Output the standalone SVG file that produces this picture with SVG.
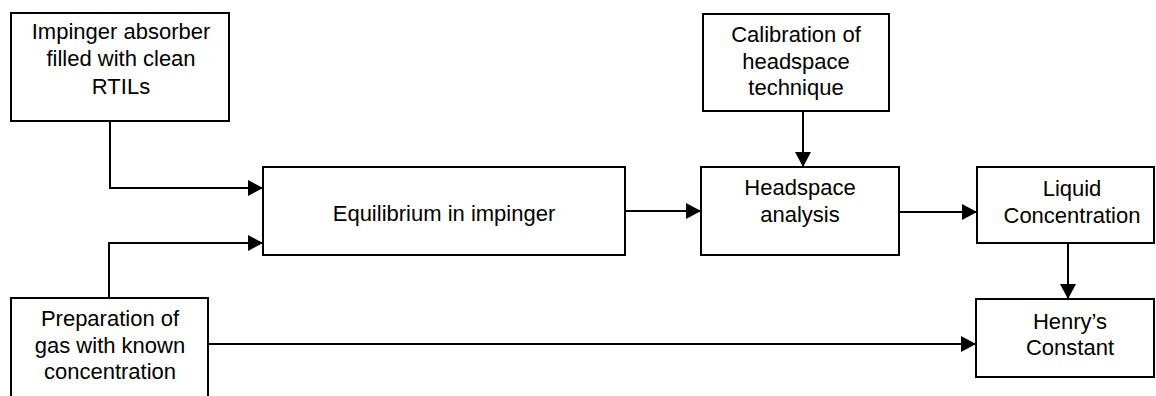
<svg xmlns="http://www.w3.org/2000/svg" width="1156" height="396" viewBox="0 0 1156 396">
<style>
.box{fill:#ffffff;stroke:#000;stroke-width:2}
.lbl{font-family:"Liberation Sans",Arial,sans-serif;font-size:22px;fill:#000;text-anchor:middle}
.conn{fill:none;stroke:#000;stroke-width:2;marker-end:url(#ah)}
</style>
<defs>
<marker id="ah" markerUnits="userSpaceOnUse" markerWidth="16" markerHeight="16" viewBox="0 0 16 16" refX="15" refY="8" orient="auto">
<path d="M0,0 L15,8 L0,16 Z" fill="#000"/>
</marker>
</defs>
<rect width="1156" height="396" fill="#fff"/>
<g id="connectors">
<path class="conn" d="M110,121 V188 H263"/>
<path class="conn" d="M109,298 V243 H263"/>
<path class="conn" d="M625,211 H701"/>
<path class="conn" d="M803,111 V167"/>
<path class="conn" d="M899,212 H977"/>
<path class="conn" d="M1068,243 V299"/>
<path class="conn" d="M208,344 H976"/>
</g>
<g id="impinger">
<rect class="box" x="11" y="13" width="218" height="108"/>
<text class="lbl" x="121" y="39">Impinger absorber</text>
<text class="lbl" x="121" y="66">filled with clean</text>
<text class="lbl" x="121" y="94">RTILs</text>
</g>
<g id="preparation">
<rect class="box" x="11" y="298" width="197" height="104"/>
<text class="lbl" x="110" y="326">Preparation of</text>
<text class="lbl" x="110" y="353">gas with known</text>
<text class="lbl" x="110" y="379">concentration</text>
</g>
<g id="equilibrium">
<rect class="box" x="263" y="167" width="362" height="88"/>
<text class="lbl" x="444" y="221">Equilibrium in impinger</text>
</g>
<g id="calibration">
<rect class="box" x="703" y="14" width="186" height="97"/>
<text class="lbl" x="796" y="42">Calibration of</text>
<text class="lbl" x="796" y="69">headspace</text>
<text class="lbl" x="796" y="95">technique</text>
</g>
<g id="headspace">
<rect class="box" x="701" y="167" width="198" height="88"/>
<text class="lbl" x="800" y="195">Headspace</text>
<text class="lbl" x="800" y="222">analysis</text>
</g>
<g id="liquid">
<rect class="box" x="977" y="167" width="177" height="76"/>
<text class="lbl" x="1072" y="196">Liquid</text>
<text class="lbl" x="1072" y="223">Concentration</text>
</g>
<g id="henry">
<rect class="box" x="976" y="299" width="178" height="78"/>
<text class="lbl" x="1070" y="329">Henry’s</text>
<text class="lbl" x="1070" y="355">Constant</text>
</g>
</svg>
